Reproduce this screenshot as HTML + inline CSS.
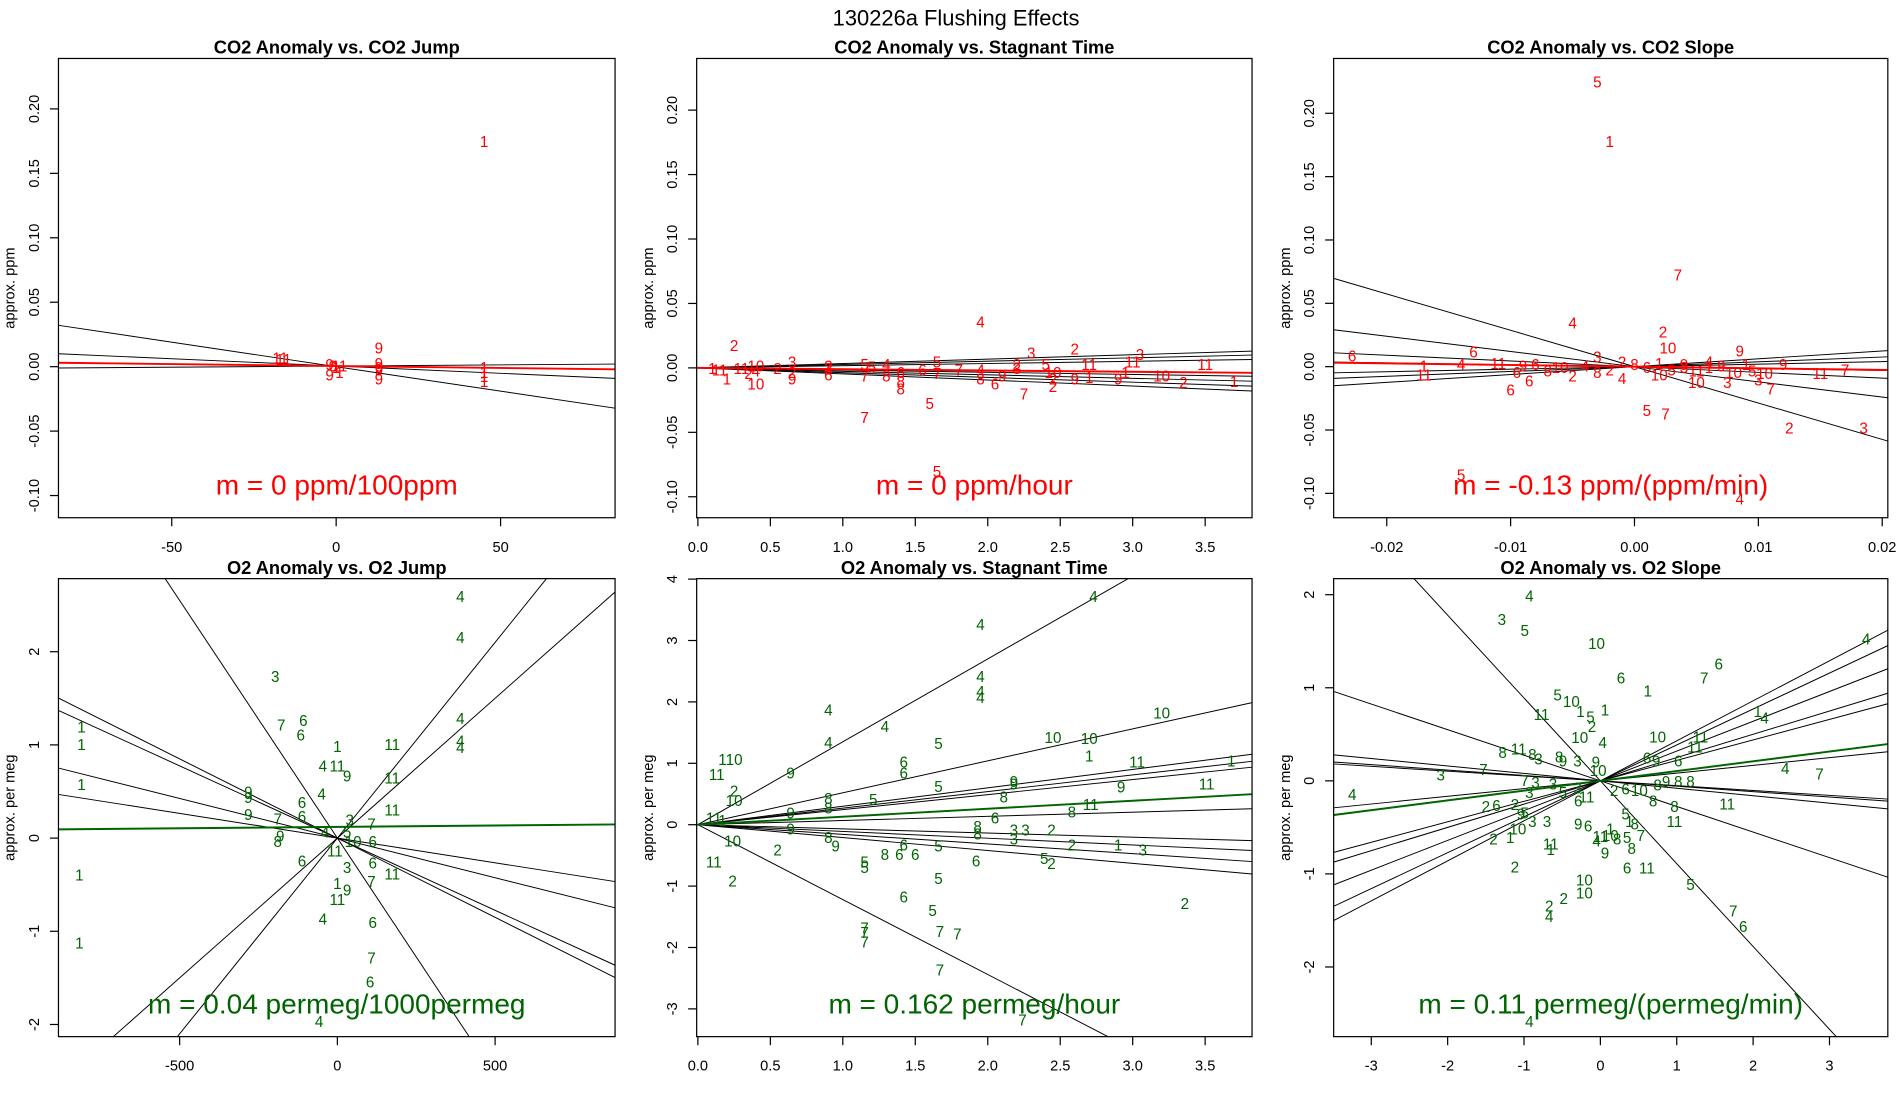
<!DOCTYPE html>
<html><head><meta charset="utf-8"><style>
html,body{margin:0;padding:0;background:#fff;width:1900px;height:1100px;overflow:hidden}
svg{display:block}
text{font-family:"Liberation Sans",sans-serif}
</style></head><body>
<svg id="fig" width="1900" height="1100" viewBox="0 0 1560 903" preserveAspectRatio="none" xmlns="http://www.w3.org/2000/svg">
<text x="785" y="21" text-anchor="middle" font-size="18" fill="#000">130226a   Flushing Effects</text>
</svg>
<script>
// ---------- data ----------
const p1X=[45,-17,-16,-2,0,1,-2,1,-1,13,13,13,13,13,45,45,45,45];
const p1Y=[0.175,0.007,0.006,0.002,0.0,0.001,-0.006,-0.004,0.001,0.015,0.003,0.0,-0.002,-0.009,0.0,-0.004,-0.011,-0.007];
const p1L=["1","11","11","9","1","11","9","1","0","9","9","9","9","9","1","1","1","1"];
const p1Slope=[-0.00038,-0.000113,0.000018];
const p1Int=[0.0,0.0005,0.0005];
const p1Fit=[-0.00003,0.0005];

const p2X=[0.25,0.1,0.15,0.2,0.3,0.4,0.4,0.55,0.65,0.65,0.9,0.9,0.9,1.15,1.15,1.15,1.2,1.3,1.3,1.4,1.4,1.4,1.55,1.6,1.65,1.65,1.65,1.8,1.95,1.95,1.95,2.05,2.1,2.2,2.2,2.25,2.3,2.4,2.45,2.45,2.45,2.6,2.7,2.7,2.6,2.9,2.95,3.05,3.0,3.2,3.35,3.5,3.7,0.4,0.65,0.35];
const p2Y=[0.018,0.0,-0.001,-0.008,0.0,-0.012,-0.002,0.0,0.005,-0.008,-0.005,0.002,0.0,-0.038,0.003,-0.006,0.001,0.003,-0.006,-0.003,-0.01,-0.016,-0.001,-0.027,0.005,-0.08,-0.004,-0.001,0.036,-0.001,-0.008,-0.012,-0.006,0.0,0.003,-0.02,0.012,0.003,-0.003,-0.014,-0.008,0.015,0.003,-0.007,-0.008,-0.008,-0.003,0.011,0.005,-0.006,-0.011,0.003,-0.01,0.002,-0.003,-0.004];
const p2L=["2","1","11","1","11","10","4","2","3","9","6","2","3","7","5","7","5","4","8","6","8","8","6","5","5","5","7","7","4","4","8","6","9","3","2","7","3","5","10","2","2","2","11","1","9","9","1","3","11","10","2","11","1","10","2","2"];
const p2Slope=[0.0034,0.0026,0.0017,-0.0017,-0.0027,-0.0037,-0.0047];
const p2Int=[0,0,0,0,0,0,0];
const p2Fit=[-0.001,0];

const p3X=[-0.003,-0.002,0.0035,-0.005,0.0023,0.0027,0.0085,-0.0228,-0.013,-0.017,-0.017,-0.011,-0.014,-0.010,-0.0085,0.001,0.0025,0.0125,0.0185,-0.014,0.0085,0.005,0.0075,0.011,0.01,0.015,0.017,0.012,0.004,0.006,-0.001,-0.003,-0.003,-0.005,-0.001,0.002,0.006,-0.008,-0.007,-0.006,-0.004,-0.002,0.0,0.001,0.002,0.003,0.004,0.005,0.007,0.008,0.009,-0.009,-0.0095,0.0105,0.0095];
const p3Y=[0.225,0.178,0.073,0.035,0.028,0.015,0.013,0.009,0.012,0.001,-0.006,0.003,0.002,-0.018,-0.011,-0.034,-0.037,-0.048,-0.048,-0.085,-0.104,-0.012,-0.012,-0.017,-0.01,-0.005,-0.002,0.002,0.002,0.004,0.004,0.008,-0.004,-0.007,-0.009,-0.006,0.0,0.002,-0.003,0.0,0.001,-0.002,0.002,0.0,0.003,-0.002,0.0,-0.003,0.001,-0.004,0.002,0.001,-0.004,-0.005,-0.003];
const p3L=["5","1","7","4","2","10","9","6","6","1","11","11","4","6","6","5","7","2","3","5","4","10","3","7","3","11","7","9","9","4","2","3","8","2","4","10","1","6","8","10","4","2","8","6","1","5","3","11","9","10","1","9","6","10","5"];
const p3Slope=[-2.87,-1.2,-0.45,-0.15,0.2,0.38,0.62];
const p3Int=[0,0,0,0,0,0,0];
const p3Fit=[-0.13,0];

const p4X=[390,390,390,390,390,-197,-178,-108,-116,-811,-811,-811,-818,-818,-282,-282,-282,-189,-189,-181,-112,-112,-50,-46,0,0,31,174,174,174,174,39,-112,0,31,0,-46,112,108,104,-58,108,108,31,-8,112,112,31,-39,50];
const p4Y=[2.60,2.16,1.29,1.05,0.98,1.74,1.22,1.27,1.11,1.20,1.01,0.58,-0.39,-1.12,0.50,0.44,0.26,0.21,-0.03,0.03,0.39,0.24,0.48,0.78,0.99,0.78,0.67,1.01,0.65,0.31,-0.38,0.20,-0.24,-0.48,-0.55,-0.65,-0.86,-0.90,-1.28,-1.54,-1.96,-0.46,0.16,-0.31,-0.13,-0.03,-0.26,0.07,0.07,-0.03];
const p4L=["4","4","4","4","4","3","7","6","6","1","1","1","1","1","9","9","9","7","8","9","6","6","4","4","1","11","9","11","11","11","11","3","6","1","9","11","4","6","7","6","4","7","7","3","11","6","6","5","4","10"];
const p4Slope=[-0.0051,0.0042,0.0030,-0.0017,-0.00155,-0.00085,-0.00053];
const p4Int=[0,0,0,0,0,0,0];
const p4Fit=[0.00003,0.12];

const p5X=[2.73,1.95,1.95,1.95,1.95,0.90,0.90,1.29,1.66,1.42,1.42,0.64,0.25,0.25,0.17,0.13,0.25,0.11,0.17,0.11,0.24,0.24,0.55,0.64,0.64,0.90,0.90,0.90,0.95,1.21,1.15,1.15,1.29,1.39,1.42,1.42,1.66,1.66,1.66,1.62,1.50,1.15,1.15,1.15,1.67,1.79,1.67,1.92,1.93,1.93,2.05,2.18,2.18,2.11,2.45,2.18,2.26,2.18,2.44,2.58,2.39,2.44,2.70,2.70,2.58,2.71,2.92,2.90,3.07,3.03,3.20,3.51,3.68,3.36,2.24];
const p5Y=[3.73,3.27,2.42,2.18,2.08,1.88,1.35,1.61,1.33,1.03,0.85,0.85,1.07,0.40,1.07,0.83,0.56,0.12,0.08,-0.60,-0.91,-0.26,-0.40,0.20,-0.06,0.44,0.28,-0.20,-0.34,0.42,-0.69,-0.60,-0.48,-0.48,-0.32,-1.17,0.63,-0.34,-0.87,-1.39,-0.48,-1.67,-1.90,-1.75,-1.73,-1.77,-2.36,-0.58,-0.02,-0.14,0.12,0.67,0.71,0.46,1.43,-0.08,-0.08,-0.22,-0.08,-0.32,-0.54,-0.62,1.41,1.13,0.22,0.34,0.62,-0.32,-0.40,1.03,1.83,0.67,1.05,-1.27,-3.17];
const p5L=["4","4","4","4","4","4","4","4","5","6","6","9","10","10","1","11","2","11","1","11","2","10","2","9","9","8","8","8","9","5","5","5","8","6","6","6","5","5","5","5","6","7","7","7","7","7","7","6","8","8","6","9","9","8","10","3","3","3","2","2","5","2","10","1","8","11","9","1","3","11","10","11","1","2","7"];
const p5Slope=[1.35,-1.22,0.52,0.30,0.27,0.245,0.068,-0.068,-0.11,-0.157,-0.21];
const p5Int=[0,0,0,0,0,0,0,0,0,0,0];
const p5Fit=[0.13,0];

const p6X=[-0.93,-1.29,-0.99,-0.05,0.27,1.36,1.55,0.62,-0.56,-0.38,-0.77,-0.26,-0.13,0.06,-0.11,-0.27,0.03,0.75,2.06,2.15,1.31,1.24,1.02,0.61,0.73,-1.07,-0.89,-0.81,-0.54,-0.49,-0.30,-0.06,-0.03,-1.28,-1.53,-2.09,-0.99,-0.85,-0.93,-0.62,-0.49,-0.30,-0.29,-0.18,0.18,0.33,0.51,0.75,0.86,1.02,1.18,0.69,0.97,0.97,1.66,2.42,2.87,3.48,-3.25,-1.50,-1.36,-1.12,-0.89,-1.04,-0.99,-0.70,-0.29,-0.05,0.13,0.0,-0.16,0.33,0.38,0.45,0.22,0.53,0.35,0.13,0.41,0.06,0.35,0.61,-1.40,-1.18,-1.08,-0.65,-0.65,-1.12,-0.21,-0.21,-0.48,-0.67,-0.67,1.18,1.74,1.87,-0.93];
const p6Y=[1.99,1.74,1.62,1.48,1.11,1.11,1.26,0.97,0.93,0.86,0.72,0.75,0.69,0.77,0.59,0.47,0.42,0.48,0.75,0.68,0.48,0.37,0.22,0.25,0.22,0.35,0.29,0.24,0.26,0.22,0.22,0.21,0.12,0.31,0.13,0.07,0.01,-0.01,-0.12,-0.03,-0.12,-0.07,-0.21,-0.17,-0.10,-0.08,-0.10,-0.04,0.0,0.0,0.0,-0.21,-0.27,-0.43,-0.24,0.14,0.08,1.53,-0.14,-0.27,-0.26,-0.25,-0.43,-0.35,-0.34,-0.43,-0.46,-0.64,-0.51,-0.59,-0.48,-0.35,-0.43,-0.46,-0.62,-0.58,-0.60,-0.58,-0.72,-0.77,-0.93,-0.93,-0.62,-0.60,-0.51,-0.67,-0.73,-0.92,-1.06,-1.20,-1.26,-1.34,-1.45,-1.11,-1.39,-1.56,-2.58];
const p6L=["4","3","5","10","6","7","6","1","5","10","11","1","5","1","2","10","4","10","1","4","11","11","6","6","9","11","8","3","8","9","3","9","10","8","7","3","7","3","3","3","5","3","6","11","2","6","10","8","9","8","8","8","8","11","11","4","7","4","4","2","6","2","3","9","5","3","9","4","1","11","6","5","1","8","8","7","5","10","8","9","6","11","2","1","10","11","1","2","10","10","2","2","4","5","7","6","4"];
const p6Slope=[-0.89,0.43,0.386,0.32,0.25,0.22,0.083,-0.052,-0.058,-0.08,-0.275];
const p6Int=[0,0,0,0,0,0,0,0,0,0,0];
const p6Fit=[0.105,0];

// ---------- axes / layout ----------
const NS="http://www.w3.org/2000/svg";
const svg=document.getElementById('fig');
function mk(tag,attrs,parent){const e=document.createElementNS(NS,tag);for(const k in attrs)e.setAttribute(k,attrs[k]);(parent||svg).appendChild(e);return e;}

const panels=[
 {id:'co2-jump',title:'CO2 Anomaly vs. CO2 Jump',box:[48,48,505,425],x0:276,xs:2.7,y0:301,ys:1058,xt:[-50,0,50],xl:["-50","0","50"],yt:[-0.1,-0.05,0,0.05,0.1,0.15,0.2],yl:["-0.10","-0.05","0.00","0.05","0.10","0.15","0.20"],ylab:'approx. ppm',col:'#ff0000',X:p1X,Y:p1Y,L:p1L,S:p1Slope,I:p1Int,F:p1Fit,m:'m = 0 ppm/100ppm',ylx:12},
 {id:'co2-stagnant',title:'CO2 Anomaly vs. Stagnant Time',box:[572,48,1028,425],x0:573,xs:119,y0:302,ys:1058,xt:[0,0.5,1,1.5,2,2.5,3,3.5],xl:["0.0","0.5","1.0","1.5","2.0","2.5","3.0","3.5"],yt:[-0.1,-0.05,0,0.05,0.1,0.15,0.2],yl:["-0.10","-0.05","0.00","0.05","0.10","0.15","0.20"],ylab:'approx. ppm',col:'#ff0000',X:p2X,Y:p2Y,L:p2L,S:p2Slope,I:p2Int,F:p2Fit,m:'m = 0 ppm/hour',ylx:536},
 {id:'co2-slope',title:'CO2 Anomaly vs. CO2 Slope',box:[1095,48,1550,425],x0:1342,xs:10170,y0:301,ys:1040,xt:[-0.02,-0.01,0,0.01,0.02],xl:["-0.02","-0.01","0.00","0.01","0.02"],yt:[-0.1,-0.05,0,0.05,0.1,0.15,0.2],yl:["-0.10","-0.05","0.00","0.05","0.10","0.15","0.20"],ylab:'approx. ppm',col:'#ff0000',X:p3X,Y:p3Y,L:p3L,S:p3Slope,I:p3Int,F:p3Fit,m:'m = -0.13 ppm/(ppm/min)',ylx:1059},
 {id:'o2-jump',title:'O2 Anomaly vs. O2 Jump',box:[48,475,505,851],x0:277,xs:0.259,y0:688,ys:76.5,xt:[-500,0,500],xl:["-500","0","500"],yt:[-2,-1,0,1,2],yl:["-2","-1","0","1","2"],ylab:'approx. per meg',col:'#006400',X:p4X,Y:p4Y,L:p4L,S:p4Slope,I:p4Int,F:p4Fit,m:'m = 0.04 permeg/1000permeg',ylx:12},
 {id:'o2-stagnant',title:'O2 Anomaly vs. Stagnant Time',box:[572,475,1028,851],x0:573,xs:119,y0:677,ys:50.4,xt:[0,0.5,1,1.5,2,2.5,3,3.5],xl:["0.0","0.5","1.0","1.5","2.0","2.5","3.0","3.5"],yt:[-3,-2,-1,0,1,2,3,4],yl:["-3","-2","-1","0","1","2","3","4"],ylab:'approx. per meg',col:'#006400',X:p5X,Y:p5Y,L:p5L,S:p5Slope,I:p5Int,F:p5Fit,m:'m = 0.162 permeg/hour',ylx:536},
 {id:'o2-slope',title:'O2 Anomaly vs. O2 Slope',box:[1095,475,1550,851],x0:1314,xs:62.7,y0:641,ys:76.4,xt:[-3,-2,-1,0,1,2,3],xl:["-3","-2","-1","0","1","2","3"],yt:[-2,-1,0,1,2],yl:["-2","-1","0","1","2"],ylab:'approx. per meg',col:'#006400',X:p6X,Y:p6Y,L:p6L,S:p6Slope,I:p6Int,F:p6Fit,m:'m = 0.11 permeg/(permeg/min)',ylx:1059}
];

panels.forEach((p,pi)=>{
 const sx=v=>p.x0+p.xs*v, sy=v=>p.y0-p.ys*v;
 const [bx0,by0,bx1,by1]=p.box;
 const g=mk('g',{});
 
 
 const cp=mk('clipPath',{id:'cp'+pi},g);
 mk('rect',{x:bx0,y:by0,width:bx1-bx0,height:by1-by0},cp);
 const t=mk('text',{x:(bx0+bx1)/2,y:by0-4,'text-anchor':'middle','font-size':15,'font-weight':'bold'},g);
 t.textContent=p.title;
 
 
 p.xt.forEach((v,i)=>{
  const x=sx(v);
  mk('line',{x1:x,x2:x,y1:by1,y2:by1+7,stroke:'#000','stroke-width':1},g);
  const tl=mk('text',{x:x,y:by1+28,'text-anchor':'middle','font-size':12},g);
  tl.textContent=p.xl[i];
  
  
 });
 p.yt.forEach((v,i)=>{
  const y=sy(v);
  mk('line',{x1:bx0-7,x2:bx0,y1:y,y2:y,stroke:'#000','stroke-width':1},g);
  const tl=mk('text',{x:bx0-16,y:y,'text-anchor':'middle','font-size':12,transform:`rotate(-90 ${bx0-16} ${y})`},g);
  tl.textContent=p.yl[i];
  
  
 });
 const yt=mk('text',{x:p.ylx,y:(by0+by1)/2,'text-anchor':'middle','font-size':12,transform:`rotate(-90 ${p.ylx} ${(by0+by1)/2})`},g);
 yt.textContent=p.ylab;
 
 
 const lg=mk('g',{'clip-path':`url(#cp${pi})`},g);
 const xa=(bx0-p.x0)/p.xs, xb=(bx1-p.x0)/p.xs;
 p.S.forEach((s,i)=>{
  const l=mk('line',{x1:sx(xa),y1:sy(p.I[i]+s*xa),x2:sx(xb),y2:sy(p.I[i]+s*xb),stroke:'#000','stroke-width':0.8},lg);
  
  
 });
 p.X.forEach((v,i)=>{
  const tx=mk('text',{x:sx(v),y:sy(p.Y[i])+5,'text-anchor':'middle','font-size':12.5,fill:p.col},lg);
  tx.textContent=p.L[i];
  
  
 });
 const fl=mk('line',{x1:sx(xa),y1:sy(p.F[1]+p.F[0]*xa),x2:sx(xb),y2:sy(p.F[1]+p.F[0]*xb),stroke:p.col,'stroke-width':1.6},lg);
 
 
 const mt=mk('text',{x:(bx0+bx1)/2,y:by1-19,'text-anchor':'middle','font-size':23,fill:p.col},g);
 mt.textContent=p.m;
 
 
 const fr=mk('rect',{x:bx0,y:by0,width:bx1-bx0,height:by1-by0,fill:'none',stroke:'#000','stroke-width':1},g);
 
 
});
</script>
</body></html>
